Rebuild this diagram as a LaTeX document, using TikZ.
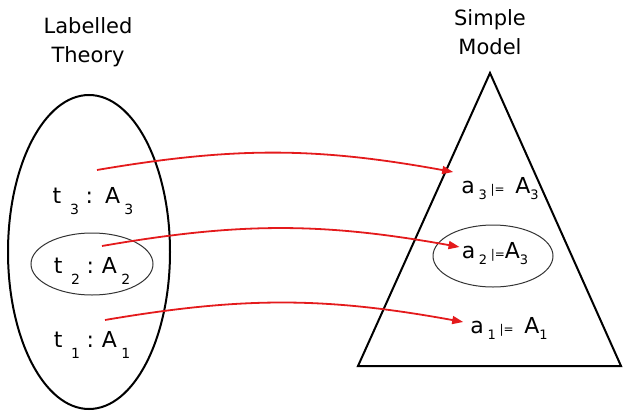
\documentclass[tikz,border=0pt]{standalone}
\usepackage{fontspec}
\setmainfont{DejaVu Sans}
\usetikzlibrary{arrows.meta}
\definecolor{linkred}{HTML}{E41A1C}
\definecolor{ringgray}{HTML}{333333}
\newcommand{\lsub}[1]{\raisebox{-0.5em}{\fontsize{14}{14}\selectfont #1}}
\newcommand{\rsub}[1]{\raisebox{-0.3em}{\fontsize{13}{13}\selectfont #1}}
\newcommand{\satis}{{\fontsize{12}{12}\selectfont |=}}

\begin{document}
\begin{tikzpicture}[x=1pt, y=1pt,
    heading/.style={font=\fontsize{21}{29}\selectfont, align=center},
    entry/.style={font=\fontsize{22}{22}\selectfont, inner sep=0pt, anchor=base},
    link/.style={-{Triangle[length=11pt,width=8pt]}, linkred, line width=1.8pt}]
  \useasboundingbox (0,0) rectangle (623,-412);
  % theory side
  \draw[line width=2pt] (89,-252) ellipse [x radius=81pt, y radius=157pt];
  \draw[ringgray, line width=1pt] (92,-264) ellipse [x radius=61pt, y radius=31pt];
  \node[heading] (theory) at (88,-42) {Labelled\\Theory};
  \node[entry] (t3) at (93,-203) {t\hspace{0.4em}\lsub{3}\hspace{0.3em}:\hspace{0.55em}A\hspace{0.2em}\lsub{3}};
  \node[entry] (t2) at (92,-273) {t\hspace{0.4em}\lsub{2}\hspace{0.3em}:\hspace{0.35em}A\hspace{0.2em}\lsub{2}};
  \node[entry] (t1) at (92,-347) {t\hspace{0.4em}\lsub{1}\hspace{0.3em}:\hspace{0.35em}A\hspace{0.2em}\lsub{1}};
  % model side
  \draw[line width=2pt] (490,-73) -- (621,-366) -- (358,-366) -- cycle;
  \draw[ringgray, line width=1pt] (493,-256) ellipse [x radius=60pt, y radius=31pt];
  \node[heading] (model) at (490,-32) {Simple\\Model};
  \node[entry] (a3) at (500,-193) {a\,\rsub{3}\,\satis\,\ A\rsub{3}};
  \node[entry] (a2) at (495,-258) {a\,\rsub{2}\,\satis A\rsub{3}};
  \node[entry] (a1) at (509,-333) {a\,\rsub{1}\,\satis\,\ A\rsub{1}};
  % links
  \draw[link] ([shift={(4pt,33pt)}]t3.base) to[bend left=10] ([shift={(-8pt,21pt)}]a3.base west);
  \draw[link] ([shift={(10pt,27pt)}]t2.base) to[bend left=10] ([shift={(-2pt,11pt)}]a2.base west);
  \draw[link] ([shift={(13pt,27pt)}]t1.base) to[bend left=10] ([shift={(-7pt,11pt)}]a1.base west);
\end{tikzpicture}
\end{document}
